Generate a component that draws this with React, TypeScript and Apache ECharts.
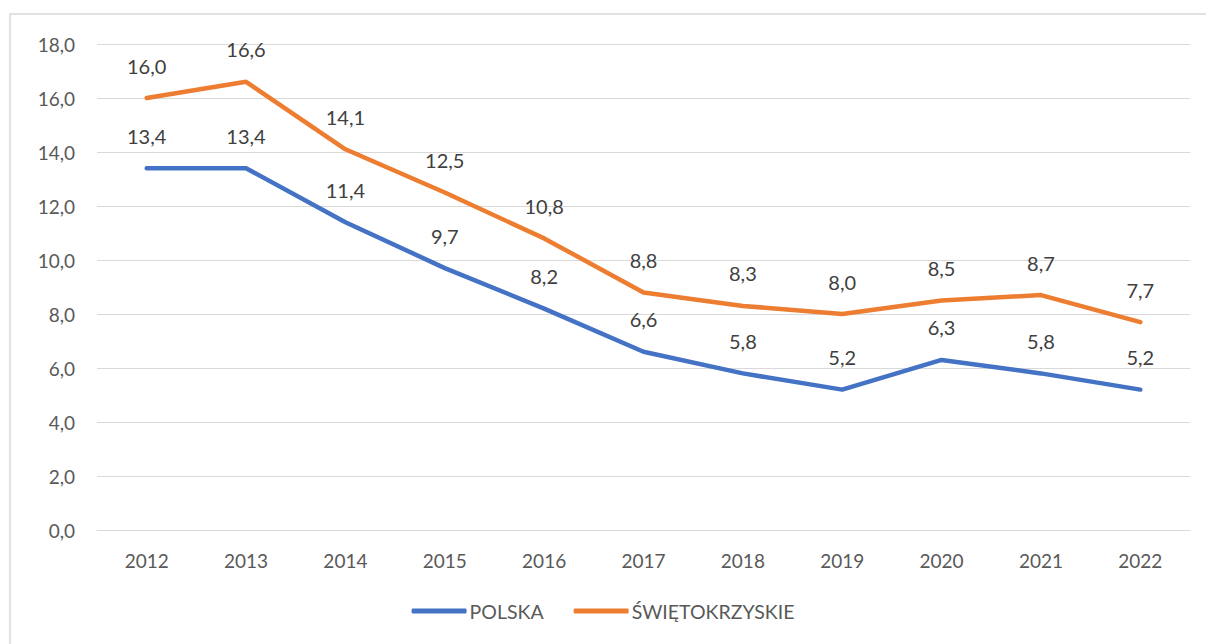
import React, { useEffect, useRef } from "react";
import * as echarts from "echarts";

const years = ["2012", "2013", "2014", "2015", "2016", "2017", "2018", "2019", "2020", "2021", "2022"];
const polska = [13.4, 13.4, 11.4, 9.7, 8.2, 6.6, 5.8, 5.2, 6.3, 5.8, 5.2];
const swietokrzyskie = [16.0, 16.6, 14.1, 12.5, 10.8, 8.8, 8.3, 8.0, 8.5, 8.7, 7.7];
const seriesNames = ["POLSKA", "ŚWIĘTOKRZYSKIE"];

const FONT = "Lato, 'Open Sans', sans-serif";
const fmt = (v: number) => v.toFixed(1).replace(".", ",");

export default function App() {
  const ref = useRef<HTMLDivElement>(null);
  useEffect(() => {
    if (!ref.current) return;
    const chart = echarts.init(ref.current, null, { renderer: "svg" });
    const mkSeries = (name: string, data: number[], color: string) => ({
      name,
      type: "line",
      data,
      symbol: "circle",
      symbolSize: 1,
      showSymbol: true,
      itemStyle: { color },
      lineStyle: { color, width: 4.5, cap: "round", join: "round" },
      label: {
        show: true,
        position: "top",
        distance: 22,
        color: "#404040",
        fontFamily: FONT,
        fontSize: 20,
        formatter: (p: any) => fmt(p.value),
      },
    });
    chart.setOption({
      animation: false,
      backgroundColor: "#ffffff",
      graphic: [
        {
          type: "rect",
          shape: { x: 10, y: 14, width: 1220, height: 660 },
          style: { fill: "none", stroke: "#d9d9d9", lineWidth: 1.5 },
          silent: true,
        },
      ],
      grid: { left: 97, right: 16, top: 44, bottom: 114 },
      legend: {
        bottom: 18,
        left: "center",
        data: seriesNames,
        icon: "roundRect",
        itemWidth: 55,
        itemHeight: 5,
        itemGap: 30,
        textStyle: { color: "#595959", fontFamily: FONT, fontSize: 19.5, padding: [0, 0, 0, -2] },
      },
      xAxis: {
        type: "category",
        data: years,
        boundaryGap: true,
        axisLine: { show: true, lineStyle: { color: "#d9d9d9", width: 1 } },
        axisTick: { show: false },
        axisLabel: { color: "#595959", fontFamily: FONT, fontSize: 19, margin: 21 },
      },
      yAxis: {
        type: "value",
        min: 0,
        max: 18,
        interval: 2,
        axisLine: { show: false },
        axisTick: { show: false },
        splitLine: { lineStyle: { color: "#d9d9d9", width: 1 } },
        axisLabel: { color: "#595959", fontFamily: FONT, fontSize: 19, margin: 22, formatter: (v: number) => fmt(v) },
      },
      series: [
        mkSeries(seriesNames[0], polska, "#4472C4"),
        mkSeries(seriesNames[1], swietokrzyskie, "#ED7D31"),
      ],
    });
    return () => chart.dispose();
  }, []);
  return (
    <div
      ref={ref}
      style={{ position: "absolute", left: 0, top: 0, width: 1206, height: 644 }}
    />
  );
}
